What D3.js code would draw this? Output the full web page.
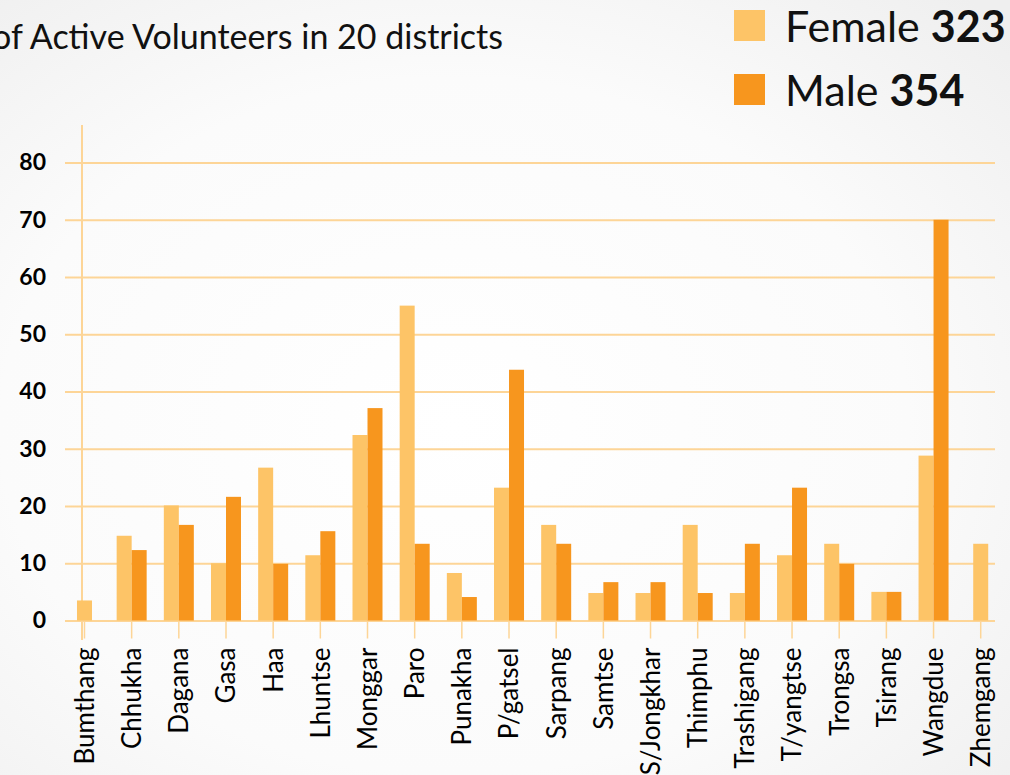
<!DOCTYPE html>
<html>
<head>
<meta charset="utf-8">
<script src="https://cdn.jsdelivr.net/npm/d3@7"></script>
<style>
  body { margin: 0; background: #f4f4f4; }
  svg { display: block; font-family: Lato, 'Open Sans', sans-serif; }
</style>
</head>
<body>
<script>
// Data
const districts = ['Bumthang', 'Chhukha', 'Dagana', 'Gasa', 'Haa', 'Lhuntse', 'Monggar', 'Paro', 'Punakha', 'P/gatsel',
    'Sarpang', 'Samtse', 'S/Jongkhar', 'Thimphu', 'Trashigang', 'T/yangtse', 'Trongsa', 'Tsirang', 'Wangdue', 'Zhemgang'];
const female = [3.5, 14.8, 20.1, 10, 26.7, 11.4, 32.4, 55, 8.3, 23.2, 16.7, 4.8, 4.8, 16.7, 4.8, 11.4, 13.4, 5, 28.8, 13.4];
const male = [0, 12.3, 16.7, 21.6, 9.9, 15.6, 37.1, 13.4, 4.1, 43.8, 13.4, 6.7, 6.7, 4.8, 13.4, 23.2, 9.9, 5, 70, 0];
const yTicks = [0, 10, 20, 30, 40, 50, 60, 70, 80];
const series = ['Female', 'Male'];
const totals = [323, 354];
const colors = ['#fdc467', '#f7961e'];

const width = 1010;
const height = 775;
const font = 'Lato, "Open Sans", sans-serif';

const svg = d3.select('body').append('svg').attr('width', width).attr('height', height);

// soft radial background like the slide
const grad = svg.append('defs').append('radialGradient')
    .attr('id', 'bg').attr('cx', '45%').attr('cy', '55%').attr('r', '75%');
grad.append('stop').attr('offset', '0%').attr('stop-color', '#ffffff');
grad.append('stop').attr('offset', '60%').attr('stop-color', '#fbfbfb');
grad.append('stop').attr('offset', '100%').attr('stop-color', '#efefef');
svg.append('rect').attr('width', width).attr('height', height).attr('fill', 'url(#bg)');

const rows = districts.map((d, i) => ({ name: d, values: [female[i], male[i]] }));

// Scales
const x = d3.scaleBand().domain(districts).range([60.9, 1004.3]).paddingInner(0.364).paddingOuter(0.182);
const y = d3.scaleLinear().domain([0, 80]).range([620.5, 162.5]);
const barW = x.bandwidth() / 2;

// gridlines + y labels
const gy = svg.append('g').attr('transform', 'translate(65,0)')
    .call(d3.axisLeft(y).tickValues(yTicks).tickSize(-930).tickPadding(19))
    .attr('font-family', font);
gy.select('.domain').remove();
gy.selectAll('.tick line').attr('stroke', '#fdd597').attr('stroke-width', 2);
gy.selectAll('.tick text')
    .attr('fill', '#000').style('font-size', '23px').style('font-weight', 'bold');

// x ticks + labels
const gx = svg.append('g').attr('transform', `translate(0,${y(0)})`)
    .call(d3.axisBottom(x).tickSize(18).tickSizeOuter(0))
    .attr('font-family', font);
gx.select('.domain').remove();
gx.selectAll('.tick line').attr('stroke', '#fdd597').attr('stroke-width', 1.5);
gx.selectAll('.tick text')
    .attr('transform', 'rotate(-90)')
    .attr('x', -27).attr('y', 0).attr('dy', '0.36em')
    .style('text-anchor', 'end')
    .attr('fill', '#000').style('font-size', '26px');

// vertical axis line
svg.append('line')
    .attr('x1', 82).attr('x2', 82).attr('y1', 125).attr('y2', 640)
    .attr('stroke', '#fdd597').attr('stroke-width', 2);

// bars: zero values are skipped and the remaining ones centred in the group
const groups = svg.append('g').selectAll('g').data(rows).join('g')
    .attr('transform', (d) => `translate(${x(d.name) + x.bandwidth() / 2},0)`);

groups.each(function (d) {
    const keys = series.filter((s, j) => d.values[j] > 0);
    const sub = d3.scaleBand().domain(keys).range([-keys.length * barW / 2, keys.length * barW / 2]);
    d3.select(this).selectAll('rect')
        .data(keys.map((k) => ({ key: k, value: d.values[series.indexOf(k)] })))
        .join('rect')
        .attr('x', (b) => sub(b.key))
        .attr('width', sub.bandwidth())
        .attr('y', (b) => y(b.value))
        .attr('height', (b) => y(0) - y(b.value))
        .attr('fill', (b) => colors[series.indexOf(b.key)]);
});

// title (cut off on the left in the original)
svg.append('text')
    .attr('x', 503).attr('y', 49)
    .attr('text-anchor', 'end')
    .style('font-size', '34px')
    .attr('fill', '#111')
    .text('of Active Volunteers in 20 districts');

// legend
const legend = svg.append('g').selectAll('g').data(series).join('g')
    .attr('transform', (d, i) => `translate(734,${10 + i * 64})`);
legend.append('rect').attr('width', 31).attr('height', 31).attr('fill', (d, i) => colors[i]);
const lt = legend.append('text').attr('x', 51).attr('y', 32).style('font-size', '43px').attr('fill', '#111');
lt.append('tspan').text((d) => d + ' ');
lt.append('tspan').style('font-weight', 'bold').text((d, i) => totals[i]);
</script>
</body>
</html>
